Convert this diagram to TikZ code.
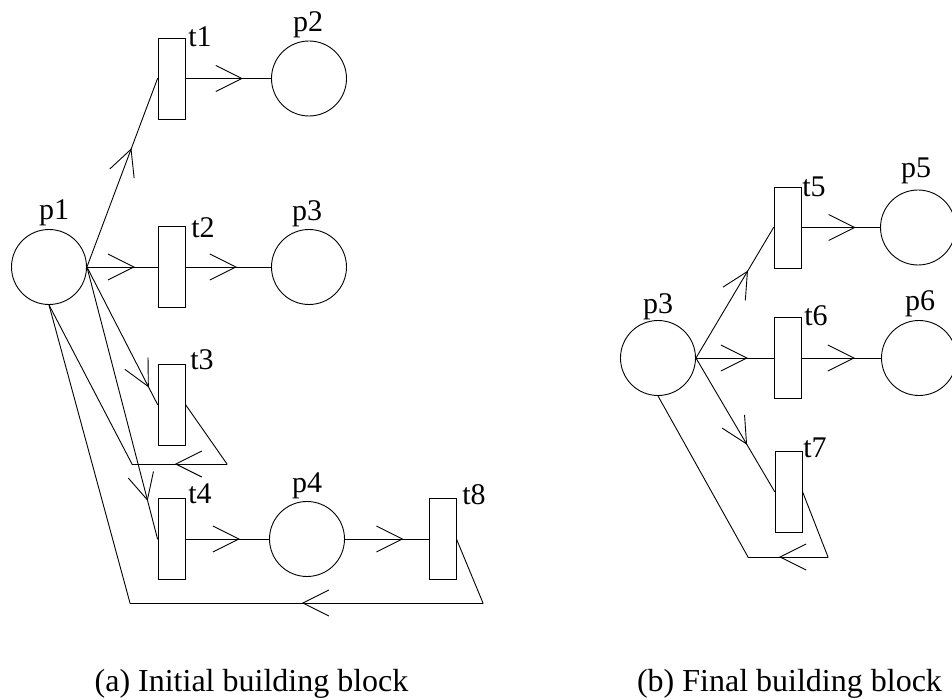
\documentclass[tikz,border=0pt]{standalone}
\usepackage{fontspec}
\setmainfont{Liberation Serif}
\usetikzlibrary{arrows.meta,decorations.markings}
\tikzset{
  place/.style={circle, draw, line width=0.9pt, minimum size=75pt, inner sep=0pt},
  trans/.style={rectangle, draw, line width=0.9pt, minimum width=27pt, minimum height=81pt, inner sep=0pt},
  lbl/.style={anchor=base, font=\fontsize{30}{30}\selectfont, inner sep=0pt},
  captext/.style={anchor=base, font=\fontsize{32}{32}\selectfont, inner sep=0pt},
  arc/.style={line width=0.9pt, line cap=round, line join=round},
  mid/.style={arc, postaction={decorate}, decoration={markings, mark=at position #1 with {\arrow{Straight Barb[length=26pt,width=26pt,line width=0.9pt]}}}}
}
\begin{document}
\begin{tikzpicture}[x=1pt,y=-1pt]
\useasboundingbox (0,0) rectangle (952,700);
% ---------- (a) ----------
\node[place] (p1) at (49,267) {};
\node[trans] (t1) at (171.5,78.5) {};
\node[place] (p2) at (309,78.5) {};
\node[trans] (t2) at (171.5,267) {};
\node[place] (p3) at (309,267) {};
\node[trans] (t3) at (171.5,404.5) {};
\node[trans] (t4) at (171.5,539) {};
\node[place] (p4) at (307,539) {};
\node[trans] (t8) at (442.5,539) {};
\coordinate (c3a) at (227,464);
\coordinate (c3b) at (132,464);
\coordinate (c8a) at (483,603);
\coordinate (c8b) at (130,603);

\node[lbl] (lp1) at (54,220) {p1};
\node[lbl] (lt1) at (200,47) {t1};
\node[lbl] (lp2) at (308,32) {p2};
\node[lbl] (lt2) at (203,238) {t2};
\node[lbl] (lp3) at (307,221) {p3};
\node[lbl] (lt3) at (202,369) {t3};
\node[lbl] (lt4) at (200,503) {t4};
\node[lbl] (lp4) at (307,492) {p4};
\node[lbl] (lt8) at (474,504) {t8};

\draw[mid=0.63] (p1.east) -- (t1.west);
\draw[mid=0.67] (t1.east) -- (p2.west);
\draw[mid=0.68] (p1.east) -- (t2.west);
\draw[mid=0.60] (t2.east) -- (p3.west);
\draw[mid=0.876] (p1.east) -- (t3.west);
\draw[mid=0.86] (p1.east) -- (t4.west);
\draw[mid=0.65] (t4.east) -- (p4.west);
\draw[mid=0.70] (p4.east) -- (t8.west);
\draw[arc] (t3.east) -- (c3a);
\draw[mid=0.55] (c3a) -- (c3b);
\draw[arc] (c3b) -- (p1.south);
\draw[arc] (t8.east) -- (c8a);
\draw[mid=0.513] (c8a) -- (c8b);
\draw[arc] (c8b) -- (p1.south);

% ---------- (b) ----------
\node[place] (q3) at (658,358) {};
\node[trans] (t5) at (787.5,227.5) {};
\node[place] (p5) at (918,227.5) {};
\node[trans] (t6) at (787.5,358) {};
\node[place] (p6) at (919,358) {};
\node[trans] (t7) at (788.5,491.5) {};
\coordinate (c7a) at (828,557);
\coordinate (c7b) at (748,557);

\node[lbl] (lq3) at (658,313) {p3};
\node[lbl] (lt5) at (814,197) {t5};
\node[lbl] (lp5) at (916,178) {p5};
\node[lbl] (lt6) at (816,325) {t6};
\node[lbl] (lp6) at (920,310) {p6};
\node[lbl] (lt7) at (815,457) {t7};

\draw[mid=0.67] (q3.east) -- (t5.west);
\draw[mid=0.69] (t5.east) -- (p5.west);
\draw[mid=0.67] (q3.east) -- (t6.west);
\draw[mid=0.67] (t6.east) -- (p6.west);
\draw[mid=0.65] (q3.east) -- (t7.west);
\draw[arc] (t7.east) -- (c7a);
\draw[mid=0.61] (c7a) -- (c7b);
\draw[arc] (c7b) -- (q3.south);

% ---------- captions ----------
\node[captext] (capa) at (251.5,691) {(a) Initial building block};
\node[captext] (capb) at (789.5,691) {(b) Final building block};
\end{tikzpicture}
\end{document}
